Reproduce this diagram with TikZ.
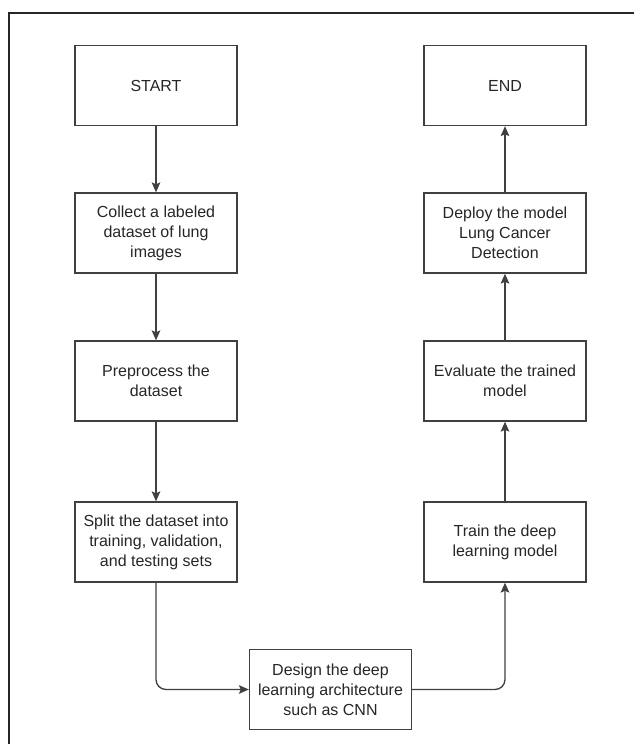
\documentclass[tikz,border=0pt]{standalone}
\usepackage{fontspec}
\setmainfont{Liberation Sans}
\usetikzlibrary{arrows.meta}

\begin{document}
\begin{tikzpicture}[x=0.75pt,y=-0.75pt,
    stepbox/.style={draw=black!75, line width=1pt, minimum width=121.5pt,
      minimum height=60pt, inner sep=0pt, align=center,
      font=\fontsize{12}{15}\selectfont, text=black!85},
    flow/.style={draw=black!75, line width=1pt, rounded corners=7.5pt,
      -{Stealth[length=7.5pt,width=6.5pt,inset=1.5pt]}}]

      \useasboundingbox (0,0) rectangle (634,744);

      % Frame
      \draw[line width=1.1pt, black!85] (9,744) -- (9,13) -- (634,13);

      % Left column
      \node[stepbox] (start) at (156,85.5) {START};
      \node[stepbox] (collect) at (156,233) {Collect a labeled\\dataset of lung\\images};
      \node[stepbox] (prep) at (156,381) {Preprocess the\\dataset};
      \node[stepbox] (split) at (156,542) {Split the dataset into\\training, validation,\\and testing sets};

      % Bottom
      \node[stepbox] (design) at (330.5,689.5) {Design the deep\\learning architecture\\such as CNN};

      % Right column
      \node[stepbox] (train) at (505,542) {Train the deep\\learning model};
      \node[stepbox] (eval) at (505,381) {Evaluate the trained\\model};
      \node[stepbox] (deploy) at (505,233) {Deploy the model\\Lung Cancer\\Detection};
      \node[stepbox] (end) at (505,85.5) {END};

      % Connectors
      \draw[flow] (start) -- (collect);
      \draw[flow] (collect) -- (prep);
      \draw[flow] (prep) -- (split);
      \draw[flow] (split.south) |- (design.west);
      \draw[flow] (design.east) -| (train.south);
      \draw[flow] (train) -- (eval);
      \draw[flow] (eval) -- (deploy);
      \draw[flow] (deploy) -- (end);

    \end{tikzpicture}
\end{document}
